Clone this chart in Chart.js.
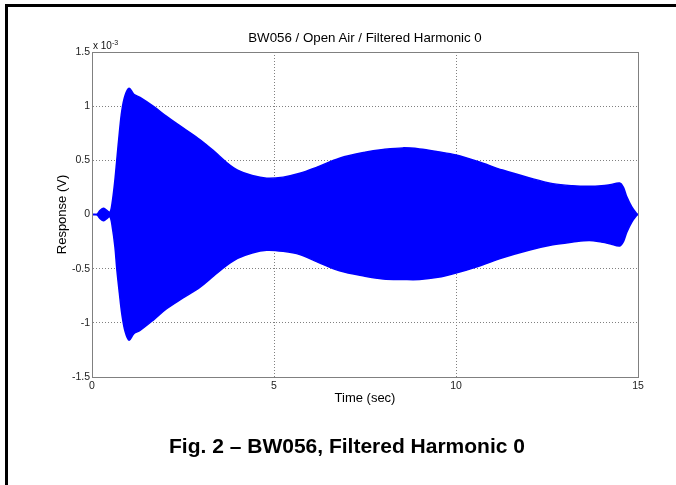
<!DOCTYPE html>
<html>
<head>
<meta charset="utf-8">
<script src="https://cdn.jsdelivr.net/npm/chart.js@4/dist/chart.umd.min.js"></script>
<style>
  body { margin: 0; background: #fff; overflow: hidden; font-family: Arial, "Liberation Sans", sans-serif; }
  #wrap { position: relative; width: 676px; height: 485px; }
  #frame { position: absolute; left: 5px; top: 4px; width: 700px; height: 500px;
           border-top: 3px solid #000; border-left: 3px solid #000; }
  #chartBox { position: absolute; left: 0; top: 0; width: 676px; height: 485px; }
  #title { position: absolute; left: 165px; top: 30px; width: 400px; text-align: center;
           font-size: 13.3px; line-height: 15px; color: #000; white-space: nowrap; }
  #expo { position: absolute; left: 93px; top: 40px; font-size: 10px; color: #111; white-space: nowrap; }
  #expo sup { font-size: 7px; vertical-align: 0; position: relative; top: -4px; }
  #caption { position: absolute; left: 0; top: 434px; width: 694px; text-align: center;
             font-weight: bold; font-size: 21px; line-height: 24px; color: #000; white-space: nowrap; }
</style>
</head>
<body>
<div id="wrap">
  <div id="frame"></div>
  <div id="chartBox"><canvas id="plot"></canvas></div>
  <div id="title">BW056 / Open Air / Filtered Harmonic 0</div>
  <div id="expo">x 10<sup>-3</sup></div>
  <div id="caption">Fig. 2 – BW056, Filtered Harmonic 0</div>
</div>
<script>
// envelope of the filtered response (units of 1e-3 V)
const timeSec = [0, 0.13, 0.2, 0.31, 0.4, 0.49, 0.55, 0.63, 0.68, 0.75, 0.82, 0.91, 1.02, 1.15, 1.32, 1.7,
  2.05, 2.5, 2.97, 3.35, 3.7, 4.0, 4.4, 4.8, 5.25, 5.71, 6.2, 6.8, 7.5, 8.0, 8.54, 9.0, 9.5, 10.0, 10.6,
  11.28, 12.0, 12.66, 13.2, 13.66, 14.0, 14.23, 14.5, 14.6, 14.69, 14.83, 14.96, 15.0];
const upperEnv = [0, 0, 0.03, 0.057, 0.04, 0.02, 0.1, 0.32, 0.5, 0.75, 0.96, 1.1, 1.165, 1.11, 1.08, 0.995,
  0.905, 0.8, 0.69, 0.585, 0.48, 0.41, 0.36, 0.335, 0.345, 0.38, 0.44, 0.52, 0.575, 0.6, 0.615, 0.605, 0.58, 0.55, 0.49,
  0.41, 0.34, 0.285, 0.265, 0.26, 0.265, 0.275, 0.29, 0.25, 0.165, 0.07, 0.01, 0];
const lowerEnv = [0, 0, -0.03, -0.057, -0.04, -0.02, -0.1, -0.3, -0.5, -0.72, -0.92, -1.08, -1.16, -1.1, -1.07, -0.97,
  -0.87, -0.77, -0.67, -0.565, -0.47, -0.405, -0.355, -0.33, -0.34, -0.37, -0.44, -0.52, -0.57, -0.595, -0.6, -0.6, -0.58, -0.54, -0.48,
  -0.4, -0.33, -0.28, -0.255, -0.24, -0.255, -0.27, -0.29, -0.25, -0.165, -0.07, -0.01, 0];

const yTicks = [-1.5, -1, -0.5, 0, 0.5, 1, 1.5];
const xTicks = [0, 5, 10, 15];

const blue = "#0000ff";
const gray = "#808080";

function pts(ys) {
  return timeSec.map((t, i) => ({ x: t, y: ys[i] }));
}

// MATLAB-style box around the axes
const boxPlugin = {
  id: "box",
  afterDraw(chart) {
    const { ctx, chartArea: a } = chart;
    ctx.save();
    ctx.strokeStyle = gray;
    ctx.lineWidth = 1;
    ctx.strokeRect(Math.round(a.left) + 0.5, Math.round(a.top) + 0.5,
      Math.round(a.right - a.left), Math.round(a.bottom - a.top));
    ctx.restore();
  }
};

new Chart(document.getElementById("plot"), {
  type: "line",
  data: {
    datasets: [
      {
        label: "upper",
        data: pts(upperEnv),
        borderColor: blue,
        backgroundColor: blue,
        borderWidth: 1.5,
        pointRadius: 0,
        fill: "+1",
        tension: 0.35
      },
      {
        label: "lower",
        data: pts(lowerEnv),
        borderColor: blue,
        backgroundColor: blue,
        borderWidth: 1.5,
        pointRadius: 0,
        fill: false,
        tension: 0.35
      }
    ]
  },
  options: {
    responsive: true,
    maintainAspectRatio: false,
    animation: false,
    layout: { padding: { left: 53, right: 38, top: 52, bottom: 77 } },
    plugins: {
      legend: { display: false },
      tooltip: { enabled: false },
      title: { display: false }
    },
    scales: {
      x: {
        type: "linear",
        min: 0,
        max: 15,
        afterBuildTicks: (s) => { s.ticks = xTicks.map(v => ({ value: v })); },
        afterFit: (s) => { s.height = 31; },
        ticks: { color: "#222", padding: 3, font: { family: "Arial", size: 10.5 }, maxRotation: 0 },
        grid: { color: gray, lineWidth: 1, drawTicks: false },
        border: { display: true, color: gray, width: 1, dash: [1, 2] },
        title: { display: true, text: "Time (sec)", color: "#000", padding: 2,
                 font: { family: "Arial", size: 13 } }
      },
      y: {
        min: -1.5,
        max: 1.5,
        afterBuildTicks: (s) => { s.ticks = yTicks.map(v => ({ value: v })); },
        afterFit: (s) => { s.width = 39; },
        ticks: { color: "#222", padding: 2, font: { family: "Arial", size: 10.5 },
                 callback: (v) => String(v) },
        grid: { color: gray, lineWidth: 1, drawTicks: false },
        border: { display: true, color: gray, width: 1, dash: [1, 2] },
        title: { display: true, text: "Response (V)", color: "#000", padding: 2,
                 font: { family: "Arial", size: 13 } }
      }
    }
  },
  plugins: [boxPlugin]
});
</script>
</body>
</html>
